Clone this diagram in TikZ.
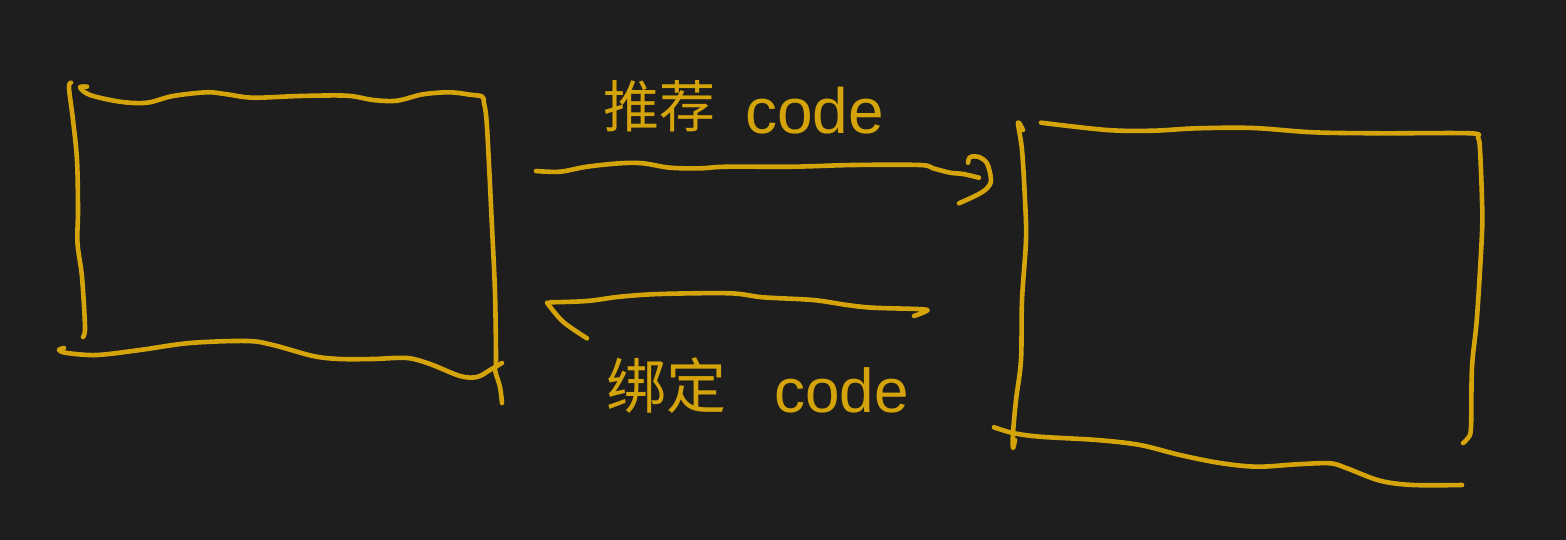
\documentclass[tikz,border=0pt]{standalone}
\usepackage{fontspec}
\newfontfamily\cjk{Noto Sans CJK SC}
\setmainfont{Liberation Sans}
\definecolor{bg}{RGB}{30,30,30}
\definecolor{ink}{RGB}{212,164,10}
\tikzset{
  pen/.style={draw=ink, line width=4.6pt, line cap=round, line join=round},
  sk/.style={pen, smooth, tension=0.55},
  lbl/.style={text=ink, inner sep=0pt}
}
\begin{document}
\begin{tikzpicture}[x=1pt,y=-1pt]
\useasboundingbox (0,0) rectangle (1566,540);
\fill[bg] (0,0) rectangle (1566,540);

% ---------- left box ----------
\draw[sk] plot coordinates {(87,86.7) (80,87.3) (90,95) (120,101.7) (147,102.7) (173,96) (207,92.3) (227,94.3) (253,97.7) (300,96) (347,95.7) (373,100) (397,100.7) (423,94.3) (450,92.3) (470,94.7) (482,96.5) (484,103) (487,127) (492,227) (495,293) (496,360) (495,370) (500,387) (502,403)};
\draw[sk] plot coordinates {(71,82.7) (69,88) (73,120) (77,160) (78,210) (77.5,243) (82,277) (85,327) (83,337)};
\draw[sk] plot coordinates {(64,348) (59,350) (67,353) (97,355) (140,350) (190,343) (247,341) (273,345) (313,356) (340,359) (373,359) (407,358) (430,364) (460,376) (477,377) (490,370) (502,363)};

% ---------- right box ----------
\draw[sk] plot coordinates {(1041,122.7) (1107,130) (1153,130.7) (1197,128.3) (1253,128) (1313,132.3) (1380,133.3) (1470,133.3) (1478,137.5) (1480,150) (1482,200) (1482,233) (1477,317) (1472,367) (1471,427) (1468,438) (1463,443)};
\draw[sk] plot coordinates {(1023,130) (1018,122.7) (1022,150) (1025,200) (1026,240) (1022,300) (1021,360) (1016,400) (1013,433) (1013,448) (1015,440)};
\draw[sk] plot coordinates {(994,427.3) (1013,433) (1040,436.7) (1097,440) (1140,445) (1180,455) (1220,463) (1257,466.7) (1297,464.3) (1330,463.3) (1347,468.3) (1380,480.7) (1413,485) (1462,485)};

% ---------- arrow: left -> right ----------
\coordinate (a1s) at (536,171);
\coordinate (a1e) at (979,177.7);
\draw[sk] plot coordinates {(a1s) (560,171.7) (587,166.7) (620,163.3) (643,163.3) (670,167.7) (700,168.3) (727,166.7) (793,166.7) (853,165) (920,165) (933,168.3) (950,172.7) (963,174) (a1e)};
\draw[sk] plot coordinates {(968,162.7) (970,157.3) (978,156.7) (987,163.3) (991,180) (987,188.3) (977,195) (959,203.3)};

% ---------- arrow: right -> left ----------
\coordinate (a2s) at (923,309.3);
\coordinate (a2e) at (550,302.3);
\draw[sk] plot coordinates {(914,316) (925,311.7) (a2s) (873,307.7) (847,305) (813,300) (763,297.3) (730,293.3) (660,294) (620,296.7) (587,301) (a2e)};
\draw[sk] plot coordinates {(547,302.7) (563,321.7) (587,338.3)};

% ---------- labels ----------
\node[lbl, anchor=base west] (t1) at (603,128) {\cjk\fontsize{56}{60}\selectfont 推荐};
\node[lbl, anchor=base west] (t1b) at (745,134) {\fontsize{64}{70}\selectfont code};
\node[lbl, anchor=base west] (t2) at (606,408) {\cjk\fontsize{60}{64}\selectfont 绑定};
\node[lbl, anchor=base west] (t2b) at (774,412) {\fontsize{62}{70}\selectfont code};
\end{tikzpicture}
\end{document}
